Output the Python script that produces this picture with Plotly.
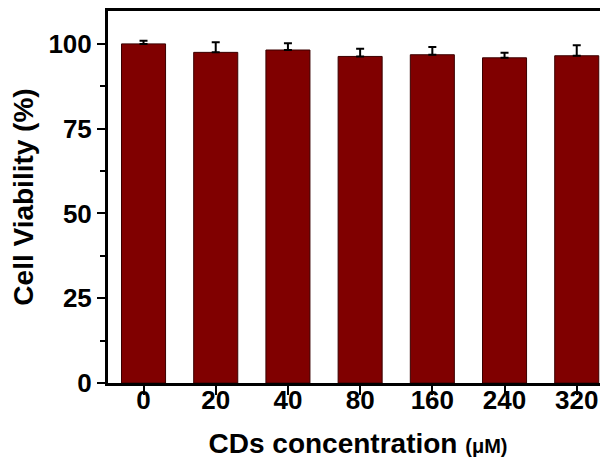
import plotly.graph_objects as go

categories = ["0", "20", "40", "80", "160", "240", "320"]
viability = [100.0, 97.5, 98.2, 96.3, 96.8, 95.9, 96.5]
errors = [0.9, 3.0, 2.0, 2.3, 2.3, 1.5, 3.1]
y_ticks = [0, 25, 50, 75, 100]

FONT = "Liberation Sans, Arial, sans-serif"

fig = go.Figure(
    go.Bar(
        x=categories,
        y=viability,
        width=0.61,
        marker=dict(color="#800000", line=dict(color="#3a0000", width=1)),
        error_y=dict(type="data", array=errors, symmetric=False, arrayminus=[0] * len(errors),
                     color="black", thickness=2, width=4),
    )
)

# page body has an 8px margin, so the figure is 8px smaller and margins shifted
fig.update_layout(
    width=600, height=455,
    margin=dict(l=100, r=0, t=0, b=80, pad=0),
    paper_bgcolor="white", plot_bgcolor="white",
    showlegend=False,
    font=dict(family=FONT, size=26, color="black"),
)

fig.update_xaxes(
    type="category",
    range=[-0.492, 6.433],
    showline=True, linecolor="black", linewidth=3, mirror=True,
    ticks="outside", ticklen=9, tickwidth=2, tickcolor="black",
    ticklabelstandoff=-17,
    tickfont=dict(family=FONT, size=26, color="black", weight="bold"),
    title=dict(text="<b>CDs concentration <span style='font-size:20px'>(μM)</span></b>",
               font=dict(family=FONT, size=28, color="black"), standoff=20),
    showgrid=False, zeroline=False,
)

fig.update_yaxes(
    range=[0, 109.7],
    tickvals=y_ticks,
    showline=True, linecolor="black", linewidth=3, mirror=False,
    ticks="outside", ticklen=8, tickwidth=2, tickcolor="black",
    minor=dict(dtick=12.5, tick0=0, ticks="outside", ticklen=5, tickwidth=2, tickcolor="black", showgrid=False),
    tickfont=dict(family=FONT, size=26, color="black", weight="bold"),
    title=dict(text="<b>Cell Viability (%)</b>", font=dict(family=FONT, size=28, color="black"), standoff=8),
    showgrid=False, zeroline=False,
)

fig.write_html("out.html")
